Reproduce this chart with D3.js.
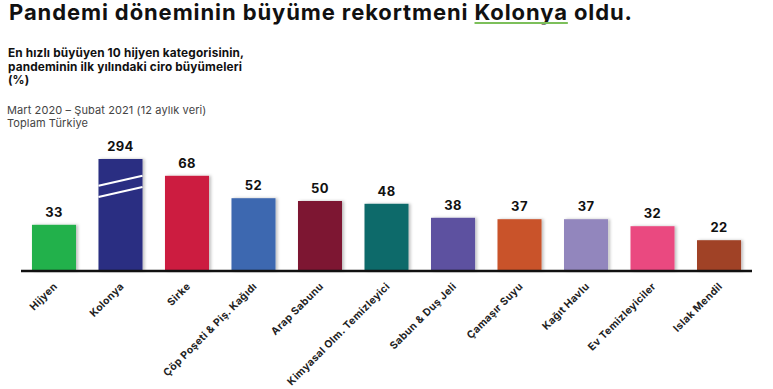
<!DOCTYPE html>
<html>
<head>
<meta charset="utf-8">
<script src="https://cdn.jsdelivr.net/npm/d3@7"></script>
<style>
  body { margin: 0; background: #fff; }
  svg { display: block; }
</style>
</head>
<body>
<div id="chart"></div>
<script>
// kategori isimleri ve ciro buyumeleri (%)
const categories = ["Hijyen", "Kolonya", "Sirke", "Çöp Poşeti & Piş. Kağıdı", "Arap Sabunu",
    "Kimyasal Olm. Temizleyici", "Sabun & Duş Jeli", "Çamaşır Suyu", "Kağıt Havlu",
    "Ev Temizleyiciler", "Islak Mendil"];
const values = [33, 294, 68, 52, 50, 48, 38, 37, 37, 32, 22];
const colors = ["#22b14c", "#2a2e82", "#cc1f40", "#3e68b0", "#7d1230", "#0f6b6a",
    "#5d51a0", "#c9532b", "#9286bd", "#ea4a80", "#a04325"];
// kirik eksen: 80 ustu degerler kesiliyor
const breakCap = 80;
const breakLines = [56.5, 64.5];

const titleParts = ["Pandemi döneminin büyüme rekortmeni ", "Kolonya", " oldu."];
const subtitle = ["En hızlı büyüyen 10 hijyen kategorisinin,", "pandeminin ilk yılındaki ciro büyümeleri", "(%)"];
const notes = ["Mart 2020 – Şubat 2021 (12 aylık veri)", "Toplam Türkiye"];

const width = 773, height = 389;
const font = "Inter, 'Open Sans', sans-serif";

let svg = d3.select("#chart")
    .append("svg")
    .attr("width", width)
    .attr("height", height);

svg.append("rect").attr("width", width).attr("height", height).attr("fill", "#fff");

let defs = svg.append("defs");
defs.append("filter")
    .attr("id", "shadow")
    .attr("x", "-20%").attr("width", "150%")
    .append("feDropShadow")
    .attr("dx", 2).attr("dy", 0)
    .attr("stdDeviation", 1.5)
    .attr("flood-color", "#000")
    .attr("flood-opacity", 0.25);

// baslik
let title = svg.append("text")
    .attr("x", 9)
    .attr("y", 20)
    .attr("font-family", font)
    .attr("font-weight", 700)
    .attr("font-size", 22)
    .attr("letter-spacing", 0.9)
    .attr("fill", "#111");
title.selectAll("tspan")
    .data(titleParts)
    .enter()
    .append("tspan")
    .text(d => d);

// Kolonya altini ciz
let tNode = title.node();
let start = titleParts[0].length;
let ux0 = tNode.getStartPositionOfChar(start).x;
let ux1 = tNode.getEndPositionOfChar(start + titleParts[1].length - 1).x;
svg.append("line")
    .attr("x1", ux0).attr("x2", ux1)
    .attr("y1", 23).attr("y2", 23)
    .attr("stroke", "#7cbf5a")
    .attr("stroke-width", 2);

svg.selectAll(".sub")
    .data(subtitle)
    .enter()
    .append("text")
    .attr("class", "sub")
    .attr("x", 8)
    .attr("y", (d, i) => 57 + i * 13.5)
    .attr("font-family", font)
    .attr("font-weight", 700)
    .attr("font-size", 11.8)
    .attr("letter-spacing", 0.15)
    .attr("fill", "#111")
    .text(d => d);

svg.selectAll(".note")
    .data(notes)
    .enter()
    .append("text")
    .attr("class", "note")
    .attr("x", 7)
    .attr("y", (d, i) => 114 + i * 12.5)
    .attr("font-family", font)
    .attr("font-size", 11)
    .attr("letter-spacing", 0.1)
    .attr("fill", "#444")
    .text(d => d);

// olcekler
let x = d3.scaleBand()
    .domain(categories)
    .range([21, 752])
    .paddingInner(0.338)
    .paddingOuter(0.165);

let y = d3.scaleLinear()
    .domain([0, breakCap])
    .range([271, 159]);

let data = categories.map((c, i) => ({name: c, value: values[i], color: colors[i]}));

let bars = svg.selectAll(".bar")
    .data(data)
    .enter()
    .append("g")
    .attr("class", "bar");

bars.append("rect")
    .attr("x", d => x(d.name))
    .attr("y", d => y(Math.min(d.value, breakCap)))
    .attr("width", x.bandwidth())
    .attr("height", d => y(0) - y(Math.min(d.value, breakCap)))
    .attr("fill", d => d.color)
    .attr("filter", "url(#shadow)");

// kirik cubuk isareti
let broken = data.filter(d => d.value > breakCap);
broken.forEach(function(d) {
    breakLines.forEach(function(v) {
        svg.append("line")
            .attr("x1", x(d.name)).attr("x2", x(d.name) + x.bandwidth())
            .attr("y1", y(v) + 5).attr("y2", y(v) - 5)
            .attr("stroke", "#fff")
            .attr("stroke-width", 2);
    });
});

bars.append("text")
    .attr("x", d => x(d.name) + x.bandwidth() / 2)
    .attr("y", d => y(Math.min(d.value, breakCap)) - 8)
    .attr("text-anchor", "middle")
    .attr("font-family", font)
    .attr("font-weight", 700)
    .attr("font-size", 13)
    .attr("letter-spacing", 0.4)
    .attr("fill", "#111")
    .text(d => d.value);

// x ekseni
let xAxis = svg.append("g")
    .attr("transform", "translate(0," + y(0) + ")")
    .call(d3.axisBottom(x).tickSize(0).tickPadding(0));
xAxis.select(".domain")
    .attr("d", "M21,0H752")
    .attr("stroke", "#111")
    .attr("stroke-width", 2.5);
xAxis.selectAll(".tick text")
    .attr("font-family", font)
    .attr("font-weight", 700)
    .attr("font-size", 10.3)
    .attr("letter-spacing", 0.35)
    .attr("fill", "#222")
    .attr("text-anchor", "end")
    .attr("dy", 0)
    .attr("transform", "translate(4,16) rotate(-45)");
</script>
</body>
</html>
